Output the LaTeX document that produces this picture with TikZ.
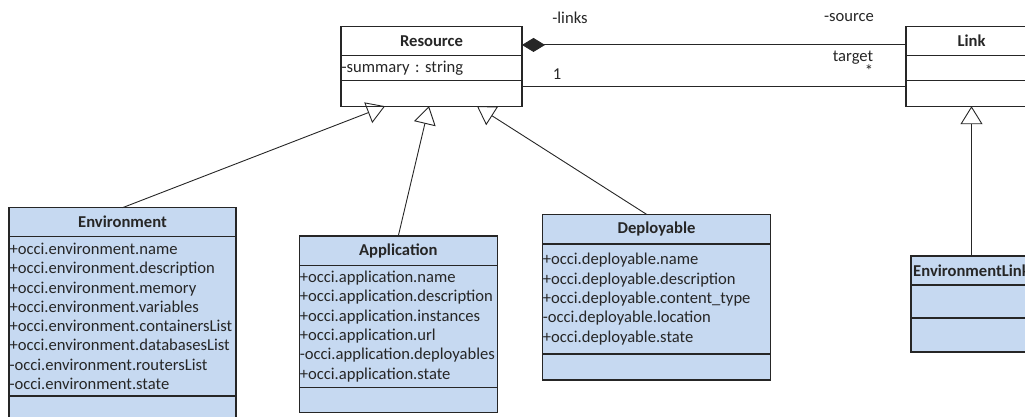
\documentclass[tikz,border=0pt]{standalone}
\usepackage{fontspec}
\setmainfont{Carlito}
\usepackage{tikz}
\usetikzlibrary{arrows.meta, positioning}
\usepackage{xcolor}
\definecolor{classblue}{RGB}{198,217,241}
\definecolor{umlline}{RGB}{38,38,38}
\frenchspacing
\exhyphenpenalty=10000

\begin{document}
\begin{tikzpicture}[
    x=1pt, y=-1pt,
    font=\fontsize{16.6pt}{19.3pt}\selectfont, text=black!85,
    part/.style={draw=umlline, line width=1.2pt, anchor=north west,
                 inner xsep=0.5pt, inner ysep=0pt, outer sep=0pt},
    header/.style={part, font=\fontsize{16.6pt}{19.3pt}\selectfont\bfseries},
    attrs/.style={part, align=left},
    filled/.style={fill=classblue},
    assoc/.style={draw=umlline, line width=0.9pt},
    gen/.style={-{Triangle[open, length=18pt, width=22pt]}, draw=umlline, line width=0.9pt},
    role/.style={inner sep=0pt}
]
\useasboundingbox (0,0) rectangle (1025,417);
\clip (0,0) rectangle (1025,417);

% Resource
\node[header, minimum width=181pt, minimum height=28.5pt] (resh) at (341,26.7) {Resource};
\node[attrs, text width=180pt, minimum height=25.7pt] (resa) at (resh.south west) {-summary : string};
\node[part, minimum width=181pt, minimum height=25.3pt] (reso) at (resa.south west) {};

% Link
\node[header, minimum width=131pt, minimum height=28.5pt] (linkh) at (906,26.7) {Link};
\node[part, minimum width=131pt, minimum height=25.7pt] (linka) at (linkh.south west) {};
\node[part, minimum width=131pt, minimum height=25.3pt] (linko) at (linka.south west) {};

% Environment
\node[header, filled, minimum width=227pt, minimum height=29pt] (envh) at (9,207.7) {Environment};
\node[attrs, filled, text width=226pt, minimum height=159.3pt] (enva) at (envh.south west)
  {+occi.environment.name\\+occi.environment.description\\+occi.environment.memory\\
   +occi.environment.variables\\+occi.environment.containersList\\
   +occi.environment.databasesList\\-occi.environment.routersList\\-occi.environment.state};
\node[part, filled, minimum width=227pt, minimum height=30pt] (envo) at (enva.south west) {};

% Application
\node[header, filled, minimum width=198pt, minimum height=29.7pt] (apph) at (299.3,236) {Application};
\node[attrs, filled, text width=197pt, minimum height=121.6pt] (appa) at (apph.south west)
  {+occi.application.name\\+occi.application.description\\+occi.application.instances\\
   +occi.application.url\\-occi.application.deployables\\+occi.application.state};
\node[part, filled, minimum width=198pt, minimum height=25.4pt] (appo) at (appa.south west) {};

% Deployable
\node[header, filled, minimum width=228.4pt, minimum height=29.7pt] (deph) at (542.3,214.3) {Deployable};
\node[attrs, filled, text width=227.4pt, minimum height=110pt] (depa) at (deph.south west)
  {+occi.deployable.name\\+occi.deployable.description\\+occi.deployable.content\_type\\
   -occi.deployable.location\\+occi.deployable.state};
\node[part, filled, minimum width=228.4pt, minimum height=26pt] (depo) at (depa.south west) {};

% EnvironmentLink
\node[header, filled, minimum width=121pt, minimum height=29pt] (envlh) at (911,256) {EnvironmentLink};
\node[part, filled, minimum width=121pt, minimum height=33pt] (envla) at (envlh.south west) {};
\node[part, filled, minimum width=121pt, minimum height=34pt] (envlo) at (envla.south west) {};

% Associations
\draw[assoc, {Diamond[length=23pt, width=14pt]}-] ([yshift=-4pt]resh.east) -- ([yshift=-4pt]linkh.west);
\draw[assoc] ([yshift=7pt]reso.east) -- ([yshift=7pt]linko.west);

\node[role] (links) at (570,18) {-links};
\node[role] (source) at (849,18) {-source};
\node[role] (target) at (853,58) {target};
\node[role] (mult) at (869,71) {*};
\node[role] (one) at (557,74) {1};

% Generalizations
\draw[gen] (envh.north) -- ([xshift=-46.5pt]reso.south);
\draw[gen] (apph.north) -- ([xshift=-2.5pt]reso.south);
\draw[gen] ([xshift=-10pt]deph.north) -- ([xshift=45.5pt]reso.south);
\draw[gen] (envlh.north) -- (linko.south);

\end{tikzpicture}
\end{document}
